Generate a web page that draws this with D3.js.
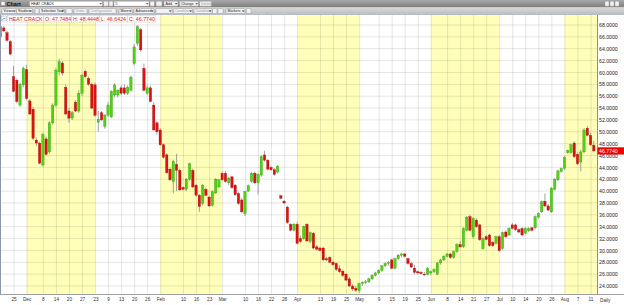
<!DOCTYPE html>
<html>
<head>
<meta charset="utf-8">
<script src="https://cdnjs.cloudflare.com/ajax/libs/d3/7.8.5/d3.min.js"></script>
<style>
body { margin: 0; background: #fff; overflow: hidden; }
text { font-family: "Liberation Sans", Arial, sans-serif; }
</style>
</head>
<body>
<svg id="chart" width="624" height="305"></svg>
<script>
// trading calendar (NYMEX closes on these)
const holidays = ["2022-11-24", "2022-12-26", "2023-01-02", "2023-01-16", "2023-02-20",
	"2023-04-07", "2023-05-29", "2023-06-19", "2023-07-04"];

// daily bars, [open, high, low, close]
const nov22 = [[66.0,68.0,65.6,67.7],[67.5,67.8,66.8,67.0],[66.7,67.0,65.2,65.4],[65.2,65.5,62.9,63.1],
	[59.3,61.1,56.7,56.8],[58.7,59.0,54.8,55.1],[54.5,58.3,54.2,58.0],[57.9,61.0,57.5,60.7]];
const dec22 = [[60.5,61.3,55.3,55.6],[55.2,55.5,52.8,53.0],[53.8,54.2,48.6,48.9],[48.6,49.0,47.6,48.1],
	[48.1,48.3,44.5,44.7],[44.4,49.8,44.1,49.5],[48.8,49.2,46.0,46.2],[46.6,51.8,46.3,51.5],
	[51.5,54.8,51.2,54.5],[54.5,60.8,54.2,60.4],[60.1,62.3,59.5,61.8],[61.6,61.9,59.5,59.9],
	[57.5,58.0,52.8,53.0],[53.5,54.0,51.5,52.3],[52.3,53.5,52.0,53.2],[55.0,55.3,53.3,53.5],
	[53.5,57.0,53.2,56.5],[56.5,59.8,56.0,59.5],[60.2,60.5,59.0,59.3],[59.0,59.3,57.8,58.0],
	[58.0,58.3,53.8,54.0]];
const jan23 = [[57.9,58.3,52.5,52.8],[51.6,53.5,50.0,52.1],[53.2,53.5,51.8,52.0],[50.9,53.0,50.5,52.8],
	[52.8,55.0,52.5,54.5],[52.5,57.0,52.3,56.8],[56.2,58.2,55.8,57.9],[56.2,57.2,55.8,57.0],
	[57.4,57.8,56.2,56.5],[57.4,58.0,56.2,56.5],[56.5,57.8,56.2,57.5],[57.0,59.5,56.8,59.2],
	[61.5,64.8,61.2,64.3],[64.9,68.0,64.5,67.7],[67.2,67.5,63.5,63.8],[60.7,61.5,56.8,57.0],
	[56.5,57.8,56.2,57.4],[57.4,57.8,55.0,55.1],[54.5,55.0,50.2,50.3],[51.5,51.8,49.5,50.0]];
const feb23 = [[50.3,50.6,47.6,47.8],[47.8,48.0,45.5,45.7],[46.1,46.4,42.9,43.1],[43.7,44.0,41.7,41.9],
	[41.6,45.3,39.6,45.0],[44.5,46.3,40.0,43.5],[43.5,43.8,40.0,40.2],[40.6,40.8,40.2,40.3],
	[40.3,42.2,40.0,42.0],[42.0,44.8,41.8,44.6],[43.5,43.8,40.5,40.7],[41.0,41.2,39.1,39.3],
	[39.3,39.5,36.5,37.4],[37.9,41.2,37.6,41.0],[40.3,40.6,39.1,39.3],[39.0,39.2,37.3,37.5],
	[37.6,40.1,37.4,39.9],[39.7,42.2,39.5,42.0],[40.7,42.0,40.5,41.9]];
const mar23 = [[43.0,43.3,41.7,41.9],[43.0,43.4,41.4,41.6],[41.4,42.4,41.0,42.2],[42.4,42.6,40.4,40.6],
	[41.0,41.2,39.2,39.4],[39.6,39.8,37.7,37.9],[38.5,38.8,36.3,36.5],[36.2,40.0,35.8,39.9],
	[40.0,41.1,39.8,40.9],[41.6,43.2,41.4,43.0],[43.0,43.3,41.2,41.4],[41.4,43.0,39.4,42.8],
	[42.7,46.0,42.4,45.8],[46.1,46.8,45.0,45.2],[45.2,45.4,43.5,43.7],[44.0,44.2,43.4,43.6],
	[43.6,43.9,42.6,42.8],[43.2,44.4,43.0,44.2],[39.2,39.4,38.6,38.8],[38.3,38.5,37.8,38.0],
	[37.3,37.5,34.5,34.7],[34.4,34.6,33.2,33.4],[33.4,34.6,33.2,34.4]];
const apr23 = [[34.4,34.8,31.0,31.2],[32.0,32.5,31.3,31.5],[32.0,34.2,31.8,34.0],[34.4,34.6,31.4,31.6],
	[31.5,33.2,31.2,33.0],[32.9,33.1,30.2,30.4],[30.6,30.9,30.0,30.2],[30.4,30.6,29.8,30.0],
	[30.4,30.6,28.2,28.4],[28.6,28.9,28.2,28.4],[28.8,29.0,27.8,28.0],[28.0,28.3,27.4,27.6],
	[27.8,28.0,26.5,26.8],[26.9,27.5,26.2,26.4],[26.5,26.8,25.5,25.8],[26.0,26.2,24.8,25.0],
	[25.2,25.5,23.8,24.0],[24.0,24.3,23.2,23.5],[23.6,24.0,23.0,23.3]];
const may23 = [[23.2,24.6,22.8,24.4],[24.4,24.8,24.0,24.6],[24.6,25.0,24.3,24.7],[24.7,25.4,24.5,25.2],
	[25.2,26.0,25.0,25.8],[25.8,26.4,25.6,26.2],[26.2,26.8,26.0,26.6],[26.6,27.5,26.4,27.4],
	[27.4,28.0,27.2,27.8],[27.8,28.2,27.4,28.0],[28.4,28.6,26.8,27.0],[27.0,28.8,26.8,28.6],
	[28.6,29.4,28.4,29.2],[29.2,29.6,28.8,29.4],[29.4,29.6,28.8,29.0],[28.6,28.8,27.6,27.8],
	[27.8,28.0,27.0,27.2],[27.0,27.6,26.0,26.3],[26.4,26.6,26.0,26.2],[26.3,26.5,25.9,26.1],
	[26.0,26.4,25.7,25.9],[25.9,27.2,25.8,27.0]];
const jun23 = [[26.2,26.6,25.8,26.4],[26.4,27.0,26.2,26.8],[26.0,28.0,25.8,27.9],[27.9,28.6,27.6,28.4],
	[28.4,29.2,28.2,29.0],[29.0,29.6,28.8,29.4],[29.4,29.6,28.6,28.8],[28.8,30.0,28.6,29.8],
	[29.8,31.2,29.6,31.0],[31.0,31.6,30.4,30.6],[30.6,33.9,30.4,33.7],[33.4,35.8,33.2,35.6],
	[35.7,36.0,33.2,33.4],[32.3,35.6,32.0,35.4],[35.1,35.4,33.8,34.0],[34.3,34.5,31.6,31.8],
	[30.3,32.2,30.1,32.0],[32.3,32.6,31.7,31.85],[32.6,32.8,30.6,30.8],[31.35,31.6,30.6,30.8],
	[31.2,32.5,31.0,32.3]];
const jul23 = [[32.3,32.6,29.8,29.95],[30.3,33.2,30.1,33.0],[33.1,33.4,32.1,32.3],[32.6,33.9,32.4,33.7],
	[34.3,34.6,33.5,33.7],[34.3,34.5,33.3,33.5],[33.5,33.7,32.9,33.1],[33.7,33.9,32.4,32.6],
	[32.9,33.9,32.7,33.7],[33.3,33.9,33.1,33.7],[33.8,34.0,33.2,33.4],[33.8,35.9,33.6,35.7],
	[35.6,36.4,35.4,36.2],[36.5,38.4,36.3,38.2],[38.3,39.6,37.3,37.5],[37.5,37.8,36.6,36.8],
	[36.5,40.7,36.3,40.5],[40.3,42.2,40.1,42.0],[41.9,43.6,41.7,43.4],[43.3,44.0,43.1,43.8]];
const aug23 = [[43.8,45.9,43.6,45.7],[46.5,47.0,46.3,46.8],[46.5,48.0,46.3,47.8],[48.1,48.4,45.6,45.8],
	[46.2,46.5,44.4,44.6],[44.9,47.0,43.3,46.6],[46.6,50.6,46.4,50.3],[50.6,51.0,49.2,49.4],
	[49.4,49.8,47.6,47.8],[47.7484,48.4448,46.6424,46.774]];

const shadedMonths = ["2022-12", "2023-02", "2023-04", "2023-06", "2023-08"];
const tickLabels = [["2022-11-25","25"],["2022-12-01","Dec"],["2022-12-08","8"],["2022-12-14","14"],
	["2022-12-20","20"],["2022-12-27","27"],["2023-01-03","'23"],["2023-01-09","9"],["2023-01-13","13"],
	["2023-01-20","20"],["2023-01-26","26"],["2023-02-01","Feb"],["2023-02-10","10"],["2023-02-16","16"],
	["2023-02-23","23"],["2023-03-01","Mar"],["2023-03-10","10"],["2023-03-16","16"],["2023-03-22","22"],
	["2023-03-28","28"],["2023-04-03","Apr"],["2023-04-13","13"],["2023-04-19","19"],["2023-04-25","25"],
	["2023-05-01","May"],["2023-05-09","9"],["2023-05-15","15"],["2023-05-19","19"],["2023-05-25","25"],
	["2023-06-01","Jun"],["2023-06-08","8"],["2023-06-14","14"],["2023-06-21","21"],["2023-06-27","27"],
	["2023-07-03","Jul"],["2023-07-10","10"],["2023-07-14","14"],["2023-07-20","20"],["2023-07-26","26"],
	["2023-08-01","Aug"],["2023-08-07","7"],["2023-08-11","11"]];
const priceTicks = d3.range(22, 71, 2);
const legendItems = ["HEAT CRACK", "O: 47.7484", "H: 48.4448", "L: 46.6424", "C: 46.7740"];

const fmt = d3.utcFormat("%Y-%m-%d");
const days = d3.utcDays(new Date(Date.UTC(2022, 10, 18)), new Date(Date.UTC(2023, 7, 15)))
	.filter(d => d.getUTCDay() % 6 !== 0)
	.map(fmt)
	.filter(s => !holidays.includes(s));
const bars = [].concat(nov22, dec22, jan23, feb23, mar23, apr23, may23, jun23, jul23, aug23)
	.map((r, i) => ({date: days[i], o: r[0], h: r[1], l: r[2], c: r[3]}));
const last = bars[bars.length - 1];

const W = 624, H = 305;
const plot = {left: 0, right: 597, top: 15, bottom: 294};

const svg = d3.select("#chart");
const defs = svg.append("defs");
const g1 = defs.append("linearGradient").attr("id", "bar1").attr("x2", 0).attr("y2", 1);
g1.append("stop").attr("offset", 0).attr("stop-color", "#a9a9a9");
g1.append("stop").attr("offset", 1).attr("stop-color", "#7d7d7d");
const g2 = defs.append("linearGradient").attr("id", "bar2").attr("x2", 0).attr("y2", 1);
g2.append("stop").attr("offset", 0).attr("stop-color", "#d9d9d9");
g2.append("stop").attr("offset", 1).attr("stop-color", "#bdbdbd");
defs.append("clipPath").attr("id", "clip").append("rect")
	.attr("x", plot.left).attr("y", plot.top)
	.attr("width", plot.right - plot.left).attr("height", plot.bottom - plot.top);

var x = d3.scalePoint()
	.domain(days)
	.range([0.5, 593.8]);
var y = d3.scaleLinear()
	.domain([24, 68])
	.range([286, 25]);

// plot background + month shading
svg.append("rect").attr("x", 0).attr("y", plot.top).attr("width", W).attr("height", H - plot.top).attr("fill", "#fff");
const area = svg.append("g").attr("clip-path", "url(#clip)");
shadedMonths.forEach(m => {
	const inMonth = days.filter(d => d.startsWith(m));
	const next = days[days.indexOf(inMonth[inMonth.length - 1]) + 1];
	const x0 = x(inMonth[0]);
	const x1 = next ? x(next) : plot.right;
	area.append("rect")
		.attr("x", x0).attr("y", plot.top)
		.attr("width", x1 - x0).attr("height", plot.bottom - plot.top)
		.attr("fill", "#ffffb9");
});

// grid
area.selectAll(".vgrid")
	.data(tickLabels)
	.enter().append("line")
		.attr("x1", d => x(d[0]) + 0.5).attr("x2", d => x(d[0]) + 0.5)
		.attr("y1", plot.top).attr("y2", plot.bottom)
		.attr("stroke", "#000").attr("stroke-opacity", 0.1);
area.selectAll(".hgrid")
	.data(priceTicks)
	.enter().append("line")
		.attr("x1", plot.left).attr("x2", plot.right)
		.attr("y1", d => y(d)).attr("y2", d => y(d))
		.attr("stroke", "#000").attr("stroke-opacity", 0.1);

// candles
const candle = area.selectAll(".candle")
	.data(bars)
	.enter().append("g")
		.attr("class", "candle");
candle.append("line")
	.attr("x1", d => x(d.date)).attr("x2", d => x(d.date))
	.attr("y1", d => y(d.h)).attr("y2", d => y(d.l))
	.attr("stroke", "#8a8a8a").attr("stroke-width", 0.8);
candle.append("rect")
	.attr("x", d => x(d.date) - 1.2)
	.attr("width", 2.4)
	.attr("y", d => y(Math.max(d.o, d.c)))
	.attr("height", d => Math.max(0.8, Math.abs(y(d.o) - y(d.c))))
	.attr("fill", d => d.c >= d.o ? "#4ed40f" : "#e01010")
	.attr("stroke", d => d.c >= d.o ? "#2f8f0a" : "#9a0a0a")
	.attr("stroke-width", 0.3);

// frame lines
svg.append("line").attr("x1", 0.5).attr("x2", 0.5).attr("y1", plot.top).attr("y2", plot.bottom)
	.attr("stroke", "#8f97a8");
svg.append("line").attr("x1", 0).attr("x2", W).attr("y1", plot.bottom + 0.5).attr("y2", plot.bottom + 0.5)
	.attr("stroke", "#a0a0a0");

// right price axis
svg.append("rect").attr("x", plot.right).attr("y", plot.top).attr("width", W - plot.right)
	.attr("height", plot.bottom - plot.top).attr("fill", "#fff");
svg.append("line").attr("x1", plot.right + 0.5).attr("x2", plot.right + 0.5)
	.attr("y1", plot.top).attr("y2", plot.bottom).attr("stroke", "#7f8fae");
const yAxis = svg.append("g")
	.attr("transform", "translate(" + (plot.right + 2) + ",0)")
	.call(d3.axisRight(y).tickValues(priceTicks.filter(v => v >= 24 && v <= 68))
		.tickFormat(d3.format(".4f")).tickSize(0).tickPadding(0));
yAxis.select(".domain").remove();
yAxis.selectAll("text").attr("font-size", 5.2).attr("fill", "#222")
	.attr("font-family", "Liberation Sans, Arial, sans-serif");
svg.append("rect").attr("x", plot.right + 0.5).attr("y", y(last.c) - 3.6)
	.attr("width", W - plot.right).attr("height", 7.2).attr("fill", "#f00000");
svg.append("text").attr("x", plot.right + 2).attr("y", y(last.c) + 1.9)
	.attr("font-size", 5.2).attr("fill", "#fff").text(d3.format(".4f")(last.c));

// bottom date axis
const tickMap = new Map(tickLabels);
const xAxis = svg.append("g")
	.attr("transform", "translate(0," + (plot.bottom + 1) + ")")
	.call(d3.axisBottom(x).tickValues(tickLabels.map(d => d[0]))
		.tickFormat(d => tickMap.get(d)).tickSize(0).tickPadding(3));
xAxis.select(".domain").remove();
xAxis.selectAll("text").attr("font-size", 4.7).attr("fill", "#333")
	.attr("font-family", "Liberation Sans, Arial, sans-serif");
svg.append("text").attr("x", 600).attr("y", 301.5).attr("font-size", 4.7).attr("fill", "#333").text("Daily");

// legend
let lx = 7;
svg.append("rect").attr("x", 1.5).attr("y", 16).attr("width", 5).attr("height", 5)
	.attr("fill", "#fff").attr("stroke", "#8da0c0").attr("stroke-width", 0.5);
svg.append("path").attr("d", "M2.5,20 L4,18 L5.5,18.8").attr("fill", "none").attr("stroke", "#3060c0").attr("stroke-width", 0.6);
legendItems.forEach((t, i) => {
	const w = i === 0 ? 36 : 28;
	svg.append("rect").attr("x", lx + 0.5).attr("y", 15.5).attr("width", w).attr("height", 6.5)
		.attr("fill", "#fff").attr("stroke", "#c8c8c8").attr("stroke-width", 0.5);
	svg.append("text").attr("x", lx + 2).attr("y", 20.6).attr("font-size", 5.3).attr("fill", "#e01818").text(t);
	lx += w;
});

// toolbars
svg.append("rect").attr("x", 0).attr("y", 0).attr("width", W).attr("height", 7.5).attr("fill", "url(#bar1)");
svg.append("rect").attr("x", 0).attr("y", 7.5).attr("width", W).attr("height", 7).attr("fill", "url(#bar2)");
svg.append("line").attr("x1", 0).attr("x2", W).attr("y1", 14.5).attr("y2", 14.5).attr("stroke", "#9aa4b8").attr("stroke-width", 0.6);

function button(px, py, w, label, opts) {
	opts = opts || {};
	svg.append("rect").attr("x", px).attr("y", py).attr("width", w).attr("height", 5)
		.attr("rx", 0.6).attr("fill", opts.fill || "#f2f2f2").attr("stroke", "#8a8a8a").attr("stroke-width", 0.4);
	if (label) svg.append("text").attr("x", px + 1.5).attr("y", py + 3.9).attr("font-size", 3.6)
		.attr("fill", opts.disabled ? "#a0a0a0" : "#222").text(label);
	if (opts.arrow) svg.append("path")
		.attr("d", `M${px + w - 3.2},${py + 2} l1.4,1.4 l1.4,-1.4 z`).attr("fill", "#333");
}
// row 1
svg.append("rect").attr("x", 1).attr("y", 1.5).attr("width", 4).attr("height", 4).attr("fill", "#f4f4f4").attr("stroke", "#666").attr("stroke-width", 0.3);
svg.append("text").attr("x", 6.5).attr("y", 5.6).attr("font-size", 5.5).attr("font-weight", "bold").attr("fill", "#111").text("Chart");
button(29.5, 1.2, 73, "HEAT CRACK", {fill: "#fff", arrow: true});
button(103.5, 1.2, 5, "");
button(109, 1.2, 4, "");
button(114, 1.2, 35, "5", {fill: "#fff", arrow: true});
button(150, 1.2, 4.5, "");
button(156, 1.2, 6, "");
button(164, 1.2, 14, "Add", {arrow: true});
button(179.5, 1.2, 19, "Change", {arrow: true});
button(199.5, 1.2, 12, "Delete", {disabled: true});
button(605, 1.2, 4, "");
button(610, 1.2, 4, "");
button(615, 1.2, 4, "");
// row 2
button(2, 8.5, 14, "Views", {arrow: true});
button(16.5, 8.5, 16, "Studies", {arrow: true});
button(35, 8.5, 4, "");
button(39.5, 8.5, 25, "Selection Tool", {arrow: true});
button(66, 8.5, 6, "");
button(74, 8.5, 13, "Undo", {disabled: true});
button(89, 8.5, 27, "Configuration", {disabled: true});
button(119, 8.5, 13, "More", {arrow: true});
button(134, 8.5, 20, "Advanced", {arrow: true});
button(156, 8.5, 16, "", {arrow: true});
button(173.5, 8.5, 19, "Condition", {disabled: true, arrow: true});
button(194, 8.5, 18, "Condition", {disabled: true, arrow: true});
button(212.5, 8.5, 4.5, "");
button(218, 8.5, 5, "");
button(226, 8.5, 19, "Markers", {arrow: true});
button(246.5, 8.5, 4.5, "");
</script>
</body>
</html>
